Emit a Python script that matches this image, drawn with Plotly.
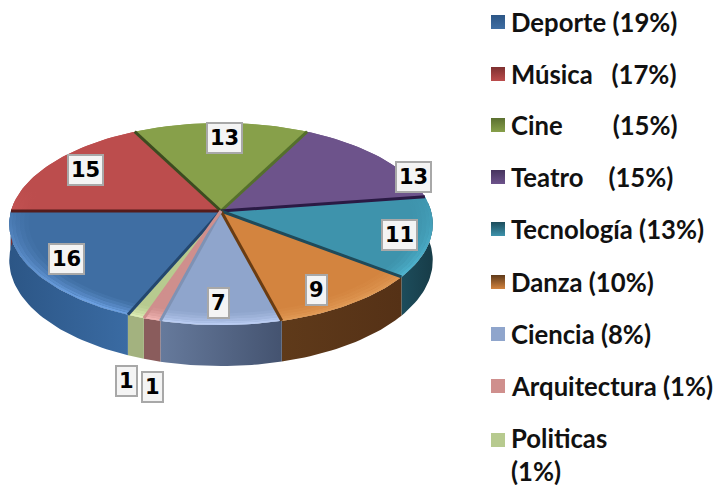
import math
import plotly.graph_objects as go

categories = ["Deporte", "Música", "Cine", "Teatro", "Tecnología", "Danza", "Ciencia", "Arquitectura", "Politicas"]
values = [16, 15, 13, 13, 11, 9, 7, 1, 1]
legend_texts = ["Deporte (19%)", "Música   (17%)", "Cine        (15%)", "Teatro    (15%)", "Tecnología (13%)",
                "Danza (10%)", "Ciencia (8%)", "Arquitectura (1%)", "Politicas<br>(1%)"]

top_colors = ["#3f6ea3", "#bc4d4d", "#87a04a", "#6d538b", "#3e93ac", "#d3843f", "#8fa5cc", "#cf8f8d", "#b7ca8f"]
light_colors = ["#6b9fe0", "#e86a6a", "#a9c562", "#8a6cae", "#52bcd8", "#e09a55", "#b9ccf2", "#f0b4b2", "#dcedb4"]
side_left = ["#2c5686", "#7e3030", "#5b7030", "#46345e", "#1d4d5c", "#5f3a1a", "#667a9c", "#8a5c5c", "#a3b27f"]
side_right = ["#3a6ba3", "#7e3030", "#5b7030", "#46345e", "#173c48", "#553116", "#445370", "#8a5c5c", "#a3b27f"]
edge_colors = ["#23466e", "#551c1c", "#3c4c20", "#55702c", "#2a1a44", "#1f4a5a", "#6a3c12", "#7f92b4", "#cf8f8d"]
label_x = [66, 85, 224, 413, 399, 316, 218, 152, 126]
label_y = [259, 170, 138, 177, 235, 290, 303, 387, 381]
legend_y = [22, 74, 125, 177, 229, 282, 334, 386, 440]
legend_text_y = [22, 74, 125, 177, 229, 282, 334, 386, 454]

CX, CY, RX, RY, K, DEPTH = 221, 211, 210, 99.4, 0.1286, 41
START = 203.0


def proj(a, r=1.0, dz=0.0):
    t = math.radians(a)
    u, v = r * math.sin(t), -r * math.cos(t)
    w = 1 - K * v
    return CX + RX * u / w, CY + RY * v / w + dz / w * (1 - K)


def arc(a0, a1, r=1.0, dz=0.0):
    n = max(2, int(abs(a1 - a0) / 1.5) + 1)
    pts = [proj(a0 + (a1 - a0) * i / n, r, dz) for i in range(n + 1)]
    return [p[0] for p in pts], [p[1] for p in pts]


def mix(c1, c2, s):
    a = [int(c1[i:i + 2], 16) for i in (1, 3, 5)]
    b = [int(c2[i:i + 2], 16) for i in (1, 3, 5)]
    return "#%02x%02x%02x" % tuple(round(x + (y - x) * s) for x, y in zip(a, b))


total = sum(values)
spans = []
ang = START
for val in values:
    spans.append((ang, ang + val / total * 360))
    ang += val / total * 360

fig = go.Figure()
common = dict(mode="lines", hoverinfo="skip", showlegend=False)

# Outer walls (only the part turned towards the viewer)
for i, (a0, a1) in enumerate(spans):
    off = 360 if a0 >= 360 else 0
    lo, hi = max(a0 - off, 85), min(a1 - off, 275)
    if lo >= hi:
        continue
    x1, y1 = arc(lo, hi)
    x2, y2 = arc(hi, lo, dz=DEPTH)
    fig.add_trace(go.Scatter(x=x1 + x2 + x1[:1], y=y1 + y2 + y1[:1], fill="toself", line=dict(width=0),
                             fillgradient=dict(type="horizontal",
                                               colorscale=[[0, side_left[i]], [1, side_right[i]]]),
                             **common))

# Top faces
for i, (a0, a1) in enumerate(spans):
    xs, ys = arc(a0, a1)
    fig.add_trace(go.Scatter(x=[CX] + xs + [CX], y=[CY] + ys + [CY], fill="toself",
                             fillcolor=top_colors[i], line=dict(width=0), name=categories[i],
                             mode="lines", hoverinfo="skip", showlegend=False))

# Bevel bands along the rim
bands = [(0.91, 0.93, 0.12), (0.93, 0.95, 0.3), (0.95, 0.97, 0.5), (0.97, 0.985, 0.75), (0.985, 1.0, 1.0)]
for i, (a0, a1) in enumerate(spans):
    for r0, r1, s in bands:
        x1, y1 = arc(a0, a1, r1)
        x0, y0 = arc(a1, a0, r0)
        fig.add_trace(go.Scatter(x=x1 + x0 + x1[:1], y=y1 + y0 + y1[:1], fill="toself", line=dict(width=0),
                                 fillgradient=dict(type="vertical", start=190, stop=300,
                                                   colorscale=[[0, top_colors[i]],
                                                               [1, mix(top_colors[i], light_colors[i], s)]]),
                                 **common))

# Dark separators between slices
for i, (a0, a1) in enumerate(spans):
    ex, ey = proj(a0)
    fig.add_trace(go.Scatter(x=[CX, ex], y=[CY, ey], line=dict(color=edge_colors[i], width=3), **common))

# Legend swatches
for i, cat in enumerate(categories):
    fig.add_trace(go.Scatter(x=[498], y=[legend_y[i]], mode="markers", hoverinfo="skip", showlegend=False,
                             marker=dict(symbol="square", size=14, color=side_left[i] if i < 6 else top_colors[i],
                                         gradient=dict(type="vertical", color=top_colors[i]))))

annotations = []
for i, txt in enumerate(legend_texts):
    annotations.append(dict(x=509, y=legend_text_y[i], text="<b>%s</b>" % txt, showarrow=False, xanchor="left",
                            yanchor="middle", align="left", font=dict(family="Lato", size=25.7, color="#111111")))
for i, val in enumerate(values):
    annotations.append(dict(x=label_x[i], y=label_y[i], text="<b>%d</b>" % val, showarrow=False,
                            font=dict(family="DejaVu Sans", size=21, color="#000000"),
                            bgcolor="#f4f4f4", bordercolor="#a8a8a8", borderwidth=2, borderpad=2))

fig.update_layout(width=716, height=485, margin=dict(l=0, r=0, t=0, b=0), paper_bgcolor="white",
                  plot_bgcolor="white", showlegend=False, annotations=annotations,
                  xaxis=dict(range=[0, 716], visible=False, fixedrange=True),
                  yaxis=dict(range=[485, 0], visible=False, fixedrange=True))
fig.write_html("out.html", config=dict(displayModeBar=False),
               post_script="document.body.style.margin='0';document.body.style.overflow='hidden';")
